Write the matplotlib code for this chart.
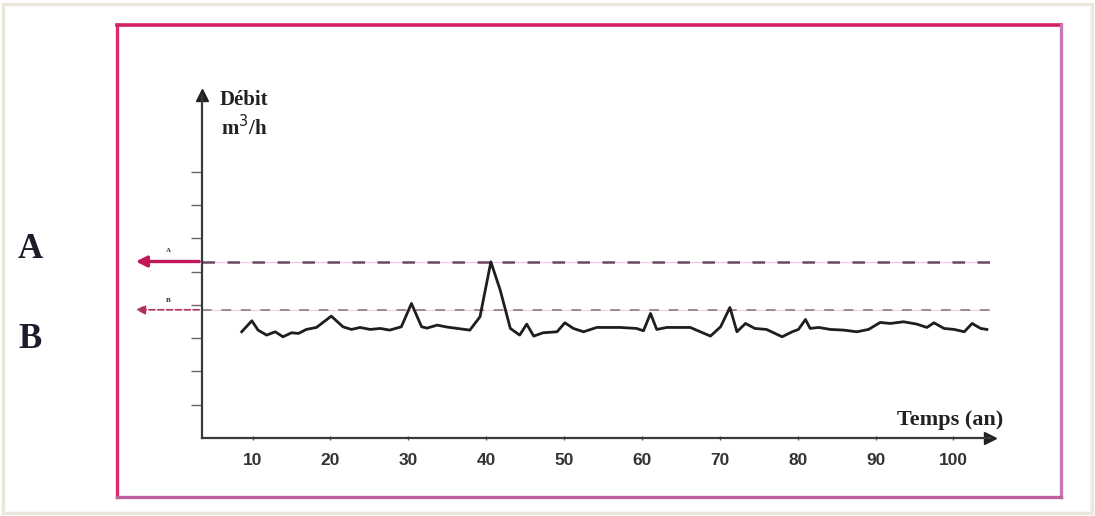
import matplotlib.pyplot as plt
from matplotlib.patches import Rectangle

# Debit over time
years = [8.6, 9.9, 10.7, 11.8, 12.9, 13.9, 15.0, 15.9, 16.9, 18.2,
         20.1, 21.6, 22.7, 23.8, 25.1, 26.4, 27.6, 29.1, 30.4, 31.7,
         32.4, 33.7, 35.0, 37.9, 39.2, 40.6, 41.8, 43.1, 44.3, 45.2,
         46.1, 47.3, 49.1, 50.1, 51.2, 52.5, 54.2, 57.2, 59.3, 60.2,
         61.1, 61.9, 63.2, 66.2, 67.5, 68.8, 70.1, 71.3, 72.2, 73.3,
         74.5, 76.0, 78.0, 79.3, 80.1, 81.0, 81.6, 82.7, 84.2, 85.9,
         87.6, 89.1, 90.6, 91.9, 93.6, 95.3, 96.6, 97.5, 98.8, 100.1,
         101.4, 102.4, 103.5, 104.3]
debit = [3.19, 3.52, 3.24, 3.09, 3.19, 3.04, 3.16, 3.14, 3.26, 3.32,
         3.66, 3.34, 3.26, 3.32, 3.26, 3.29, 3.24, 3.34, 4.04, 3.34,
         3.30, 3.39, 3.33, 3.24, 3.64, 5.29, 4.44, 3.29, 3.09, 3.42,
         3.06, 3.16, 3.19, 3.46, 3.29, 3.19, 3.32, 3.32, 3.29, 3.22,
         3.74, 3.26, 3.32, 3.32, 3.19, 3.06, 3.34, 3.92, 3.19, 3.44,
         3.29, 3.26, 3.04, 3.19, 3.26, 3.56, 3.29, 3.32, 3.26, 3.24,
         3.19, 3.26, 3.47, 3.44, 3.49, 3.42, 3.32, 3.46, 3.29, 3.26,
         3.19, 3.44, 3.29, 3.26]

# threshold levels
level_A = 5.3
level_B = 3.85

xticks = [10, 20, 30, 40, 50, 60, 70, 80, 90, 100]
yticks = [1, 2, 3, 4, 5, 6, 7, 8]

W, H = 1095, 516
fig = plt.figure(figsize=(W / 100, H / 100), dpi=100)

# outer beige frame and pink box
fig.patches.append(Rectangle((3 / W, 3 / H), 1089 / W, 509 / H, transform=fig.transFigure,
                             fill=False, edgecolor='#ebe7da', lw=2.5))
fig.add_artist(plt.Line2D([117 / W, 117 / W], [1 - 497 / H, 1 - 25 / H], color='#dc2a70', lw=2.4))
fig.add_artist(plt.Line2D([117 / W, 1061 / W], [1 - 25 / H, 1 - 25 / H], color='#d01f62', lw=2.6))
fig.add_artist(plt.Line2D([1061 / W, 1061 / W], [1 - 497 / H, 1 - 25 / H], color='#c878b4', lw=2.4))
fig.add_artist(plt.Line2D([117 / W, 1061 / W], [1 - 497 / H, 1 - 497 / H], color='#c0609e', lw=2.4))

x0, x1 = 202, 990
y0, y1 = 438, 95
ax = fig.add_axes([x0 / W, 1 - y0 / H, (x1 - x0) / W, (y0 - y1) / H])
ax.set_xlim(3.5, 104.7)
ax.set_ylim(0, (y0 - y1) / 33.3)

for s in ['top', 'right']:
    ax.spines[s].set_visible(False)
for s in ['left', 'bottom']:
    ax.spines[s].set_color('#3a3a3a')
    ax.spines[s].set_linewidth(1.6)

# axis arrows
ax.plot(1, 0, '>', color='#222222', ms=8, transform=ax.transAxes, clip_on=False)
ax.plot(0, 1, '^', color='#222222', ms=8, transform=ax.transAxes, clip_on=False)

ax.set_xticks(xticks)
ax.set_xticklabels([str(t) for t in xticks], fontsize=12.5, fontweight='bold',
                   family='Liberation Sans', color='#333333')
ax.set_yticks(yticks)
ax.set_yticklabels([])
ax.tick_params(axis='x', length=3, width=1, direction='inout', pad=9, colors='#555555')
ax.tick_params(axis='x', labelcolor='#333333')
ax.tick_params(axis='y', length=8, width=1, direction='out', colors='#666666')

# dashed thresholds
ax.axhline(level_A, color='#f2c4e2', lw=0.8)
ax.axhline(level_A, color='#6a4a60', lw=1.8, dashes=(5, 5))
ax.axhline(level_B, color='#f4cce6', lw=0.8)
ax.axhline(level_B, color='#9a8a98', lw=1.4, dashes=(5, 5))

# the series
ax.plot(years, debit, color='#1e1e1e', lw=2.0)

# arrows out to the left
tip = (133 - x0) / (x1 - x0)
ax.annotate('', xy=(tip, level_A), xycoords=('axes fraction', 'data'),
            xytext=(0, level_A), textcoords=('axes fraction', 'data'),
            arrowprops=dict(arrowstyle='-|>', color='#c0185a', lw=2.4, mutation_scale=16))
ax.annotate('', xy=(tip, level_B), xycoords=('axes fraction', 'data'),
            xytext=(0, level_B), textcoords=('axes fraction', 'data'),
            arrowprops=dict(arrowstyle='-|>', color='#b03060', lw=1.2, ls='--', mutation_scale=14))

serif = 'Liberation Serif'
fig.text(168 / W, 1 - 250 / H, 'A', fontsize=5, fontweight='bold', family=serif,
         ha='center', va='center', color='#333333')
fig.text(168 / W, 1 - 300 / H, 'B', fontsize=5, fontweight='bold', family=serif,
         ha='center', va='center', color='#222222')

# axis titles
fig.text(220 / W, 1 - 100 / H, 'Débit', fontsize=15, fontweight='bold', family=serif,
         ha='left', va='center', color='#222222')
fig.text(221 / W, 1 - 128 / H, 'm$^{3}$/h', fontsize=15, fontweight='bold', family=serif,
         ha='left', va='center', color='#222222')
fig.text(1003 / W, 1 - 420 / H, 'Temps (an)', fontsize=16, fontweight='bold', family=serif,
         ha='right', va='center', color='#222222')

# big labels outside
fig.text(30 / W, 1 - 249 / H, 'A', fontsize=25, fontweight='bold', family=serif,
         ha='center', va='center', color='#1c1c2c')
fig.text(30 / W, 1 - 339 / H, 'B', fontsize=25, fontweight='bold', family=serif,
         ha='center', va='center', color='#1c1c2c')

fig.savefig('out.png', dpi=100)
